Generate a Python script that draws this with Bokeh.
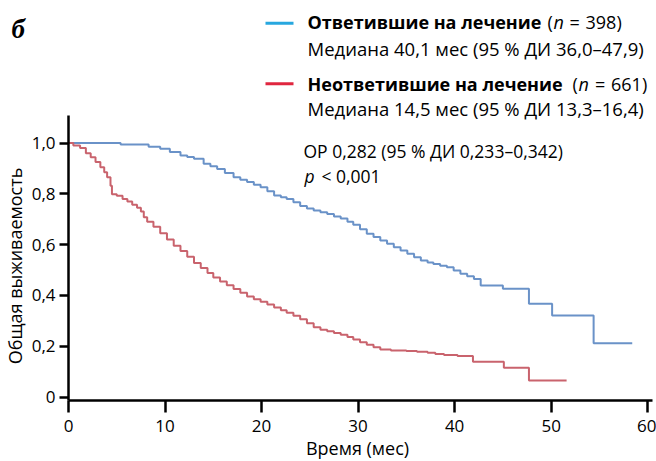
from math import pi
from bokeh.plotting import figure
from bokeh.models import Range1d, FixedTicker, Label
from bokeh.embed import file_html
from bokeh.resources import INLINE

# ---- data ----
resp_t = [0, 5.4, 8.3, 9.5, 10.5, 11.6, 12.3, 13.0, 14.0, 14.7, 15.4, 16.2, 17.1, 17.8,
          18.5, 19.2, 19.9, 20.6, 21.3, 22.0, 22.6, 23.3, 24.0, 24.7, 25.4, 26.1, 26.8,
          27.5, 28.2, 28.9, 29.5, 30.2, 30.9, 31.6, 32.3, 33.0, 33.7, 34.4, 35.1, 35.8,
          36.5, 37.2, 37.8, 38.5, 39.2, 39.9, 40.6, 41.3, 42.0, 42.7, 45.0, 47.7, 50.1,
          54.4, 58.4]
resp_s = [1.0, 0.994, 0.985, 0.977, 0.965, 0.951, 0.945, 0.938, 0.918, 0.908, 0.898,
          0.882, 0.865, 0.855, 0.846, 0.836, 0.826, 0.810, 0.793, 0.786, 0.780, 0.767,
          0.752, 0.742, 0.734, 0.727, 0.720, 0.711, 0.703, 0.690, 0.678, 0.660, 0.643,
          0.630, 0.616, 0.603, 0.590, 0.577, 0.564, 0.550, 0.537, 0.530, 0.524, 0.517,
          0.511, 0.498, 0.485, 0.475, 0.465, 0.439, 0.426, 0.367, 0.321, 0.212, 0.212]

nonresp_t = [0, 0.5, 1.2, 1.8, 2.3, 2.8, 3.3, 3.7, 4.0, 4.35, 4.5, 5.0, 5.6, 6.1, 6.6,
             7.1, 7.5, 7.8, 8.15, 8.8, 9.5, 10.2, 10.9, 11.6, 12.3, 13.0, 13.7, 14.4,
             15.0, 15.7, 16.4, 17.1, 17.8, 18.5, 19.2, 19.9, 20.6, 21.3, 22.0, 22.6,
             23.3, 24.0, 24.7, 25.4, 26.1, 26.8, 27.5, 28.2, 28.9, 29.5, 30.2, 30.9,
             31.6, 32.3, 33.4, 35.0, 36.1, 37.2, 38.0, 38.9, 40.3, 41.9, 45.1, 47.7, 51.6]
nonresp_s = [1.0, 0.99, 0.98, 0.96, 0.944, 0.925, 0.905, 0.885, 0.865, 0.832, 0.798,
             0.792, 0.780, 0.770, 0.757, 0.745, 0.730, 0.708, 0.690, 0.670, 0.645, 0.620,
             0.595, 0.575, 0.552, 0.528, 0.508, 0.488, 0.470, 0.455, 0.440, 0.425, 0.410,
             0.396, 0.385, 0.375, 0.364, 0.352, 0.342, 0.332, 0.320, 0.306, 0.290, 0.275,
             0.265, 0.259, 0.252, 0.245, 0.236, 0.226, 0.216, 0.206, 0.196, 0.187, 0.183,
             0.181, 0.178, 0.174, 0.169, 0.165, 0.161, 0.139, 0.115, 0.065, 0.065]

x_ticks = [0, 10, 20, 30, 40, 50, 60]
y_ticks = [0, 0.2, 0.4, 0.6, 0.8, 1.0]
y_tick_labels = ["0", "0,2", "0,4", "0,6", "0,8", "1,0"]

FONT = "Open Sans"
BLUE_CURVE = "#6a92c8"
RED_CURVE = "#c9636d"
BLUE_KEY = "#27a7df"
RED_KEY = "#e0263f"

# pixel geometry of the reference (the figure fills the whole 656x461 view)
W, H = 656, 461
AX_X = 68                # x pixel of time 0 (y axis)
PX_PER_X = 9.653
Y0_PIX = 396.5           # y pixel of survival 0
PX_PER_Y = 254.0
XAXIS_PIX = 400          # y pixel of the x-axis line
YAXIS_TOP_PIX = 115      # y pixel where the y-axis line ends
TXT_SHIFT = 7            # labels render this much below their anchor


def dx(px):
    return (px - AX_X) / PX_PER_X


def dy(py):
    return (Y0_PIX - py) / PX_PER_Y


p = figure(width=W, height=H,
           x_range=Range1d(dx(0), dx(W)), y_range=Range1d(dy(H), dy(0)),
           output_backend="svg", toolbar_location=None,
           min_border_left=0, min_border_right=0, min_border_top=0, min_border_bottom=0)
p.outline_line_color = None
p.xgrid.visible = False
p.ygrid.visible = False

p.step(resp_t, resp_s, mode="after", line_color=BLUE_CURVE, line_width=2)
p.step(nonresp_t, nonresp_s, mode="after", line_color=RED_CURVE, line_width=2)

for ax in (p.xaxis[0], p.yaxis[0]):
    ax.axis_line_width = 2.5
    ax.axis_line_color = "black"
    ax.major_tick_line_width = 2.5
    ax.major_tick_line_color = "black"
    ax.major_tick_in = 0
    ax.minor_tick_line_color = None
    ax.major_label_text_font = FONT
    ax.major_label_text_font_size = "17px"
    ax.major_label_text_color = "black"

p.xaxis.fixed_location = dy(XAXIS_PIX)
p.xaxis.bounds = (0, 60.5)
p.xaxis.ticker = FixedTicker(ticks=x_ticks)
p.xaxis.major_tick_out = 12
p.xaxis.major_label_standoff = 7

p.yaxis.fixed_location = 0
p.yaxis.bounds = (dy(XAXIS_PIX), dy(YAXIS_TOP_PIX))
p.yaxis.ticker = FixedTicker(ticks=y_ticks)
p.yaxis.major_label_overrides = {t: s for t, s in zip(y_ticks, y_tick_labels)}
p.yaxis.major_tick_out = 9
p.yaxis.major_label_standoff = 4


def lab(text, px, py, size="18px", style="normal", font=FONT, align="left", shift=TXT_SHIFT):
    p.add_layout(Label(x=dx(px), y=dy(py - shift), text=text, text_font=font,
                       text_font_size=size, text_font_style=style, text_color="black",
                       text_baseline="alphabetic", text_align=align))


# axis titles
lab("Время (мес)", 357, 454.5, align="center")
p.add_layout(Label(x=dx(21.5 - TXT_SHIFT), y=dy(265.5), text="Общая выживаемость",
                   text_font=FONT, text_font_size="18px", text_color="black",
                   angle=pi / 2, text_baseline="alphabetic", text_align="center"))

# panel letter
lab("б", 11, 36, size="27px", style="bold italic", font="Liberation Serif", shift=8)

# legend keys
p.segment(x0=[dx(265)], y0=[dy(22.7)], x1=[dx(293)], y1=[dy(22.7)], line_color=BLUE_KEY, line_width=3)
p.segment(x0=[dx(265)], y0=[dy(83.3)], x1=[dx(293)], y1=[dy(83.3)], line_color=RED_KEY, line_width=3)

# legend texts
lab("Ответившие на лечение", 307, 28.5, style="bold")
lab("(", 547, 28.5)
lab("n", 553, 28.5, style="italic")
lab("=", 569, 28.5)
lab("398)", 585, 28.5)
lab("Медиана 40,1 мес (95 % ДИ 36,0–47,9)", 307, 55, size="18.5px")
lab("Неответившие на лечение", 307, 90, style="bold")
lab("(", 572, 90)
lab("n", 578, 90, style="italic")
lab("=", 594.5, 90)
lab("661)", 610.5, 90)
lab("Медиана 14,5 мес (95 % ДИ 13,3–16,4)", 307, 115, size="18.5px")

# hazard ratio
lab("ОР 0,282 (95 % ДИ 0,233–0,342)", 303, 157, size="17.5px")
lab("p", 304, 182, size="17.5px", style="italic")
lab("< 0,001", 321, 182, size="17.5px")

open("out.html", "w").write(file_html(p, INLINE))
